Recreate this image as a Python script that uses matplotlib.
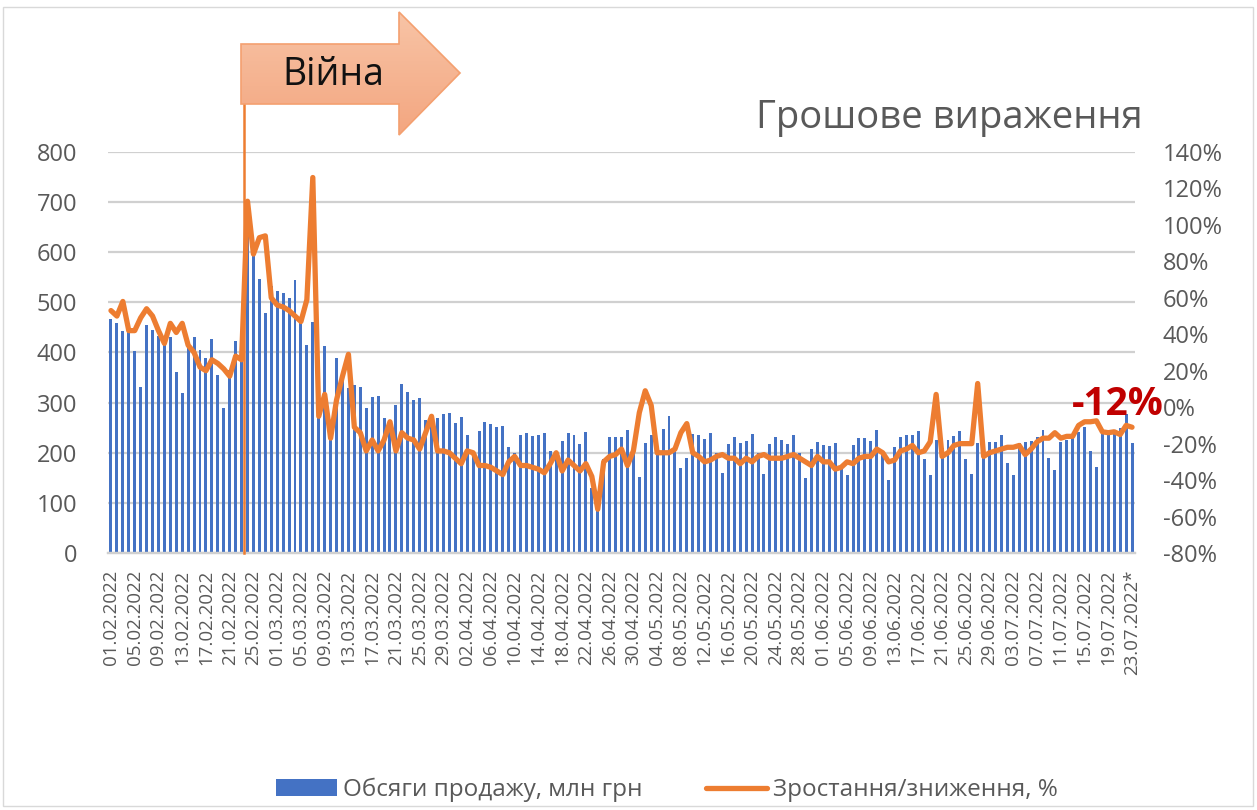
import numpy as np
import pandas as pd
import matplotlib
matplotlib.use("Agg")
import matplotlib.pyplot as plt
from matplotlib.patches import Polygon, Rectangle
from matplotlib.ticker import FuncFormatter

plt.rcParams['font.family'] = ['Open Sans', 'DejaVu Sans']

# =========================
# Дані
# =========================
dates = pd.date_range("2022-02-01", "2022-07-23", freq="D")
date_labels = [d.strftime("%d.%m.%Y") for d in dates]
date_labels[-1] = date_labels[-1] + "*"

# Обсяги продажу, млн грн
sales = [
    466, 458, 442, 440, 402, 332, 455, 445, 432, 418,
    430, 361, 319, 412, 430, 405, 389, 426, 355, 289,
    365, 422, 400, 640, 598, 546, 479, 532, 522, 518,
    508, 545, 462, 415, 460, 300, 412, 240, 390, 353,
    330, 335, 332, 289, 312, 314, 270, 262, 295, 337,
    321, 305, 309, 265, 275, 270, 277, 279, 260, 272,
    235, 200, 244, 261, 257, 251, 253, 212, 200, 235,
    240, 234, 235, 240, 204, 202, 224, 239, 235, 218,
    242, 130, 95, 187, 232, 232, 231, 245, 200, 151,
    220, 235, 210, 247, 273, 205, 169, 190, 237, 235,
    227, 239, 200, 159, 217, 232, 220, 224, 237, 200,
    158, 218, 232, 226, 217, 235, 200, 149, 208, 222,
    215, 214, 220, 170, 156, 215, 230, 230, 224, 245,
    200, 146, 211, 232, 235, 235, 243, 187, 156, 225,
    210, 225, 233, 243, 187, 157, 219, 216, 222, 222,
    235, 179, 156, 220, 222, 224, 232, 245, 190, 166,
    222, 226, 230, 241, 252, 204, 172, 239, 235, 239,
    250, 277, 219,
]

# Зростання/зниження, %
change = [
    53, 50, 58, 42, 42, 49, 54, 50, 42, 35,
    46, 41, 46, 34, 30, 22, 20, 26, 24, 21,
    17, 28, 26, 113, 84, 93, 94, 60, 56, 55,
    53, 50, 47, 59, 126, -5, 7, -17, 4, 17,
    29, -11, -14, -24, -18, -24, -18, -8, -24, -14,
    -17, -18, -23, -14, -5, -24, -24, -25, -28, -31,
    -24, -25, -32, -32, -33, -35, -37, -30, -27, -32,
    -32, -33, -34, -36, -31, -25, -35, -29, -32, -35,
    -31, -38, -56, -30, -27, -26, -23, -32, -24, -3,
    9, 1, -25, -25, -25, -23, -14, -9, -25, -27,
    -30, -29, -27, -26, -28, -28, -31, -28, -30, -27,
    -26, -28, -28, -28, -27, -26, -28, -30, -32, -27,
    -30, -30, -34, -33, -30, -31, -28, -27, -27, -23,
    -25, -30, -29, -24, -23, -21, -25, -24, -19, 7,
    -27, -25, -21, -20, -20, -20, 13, -27, -25, -24,
    -23, -22, -22, -21, -26, -23, -19, -17, -17, -14,
    -17, -16, -16, -10, -8, -8, -7.5, -13.5, -14, -13.5,
    -15, -10, -11,
]

war_start = 22.45        # межа 23.02 / 24.02
last_label = "-12%"

# =========================
# Графік
# =========================
W, H = 1257, 810
fig = plt.figure(figsize=(W / 100, H / 100), dpi=100)
ax = fig.add_axes([108 / W, 1 - 553 / H, 1027 / W, 401 / H])
ax2 = ax.twinx()

x = np.arange(len(sales))
ax.bar(x, sales, width=0.5, color="#4472C4", zorder=2,
       label="Обсяги продажу, млн грн")
ax.set_xlim(-0.5, len(sales) - 0.5)
ax.set_ylim(0, 800)
ax.set_yticks(range(0, 801, 100))
ax.yaxis.grid(True, color="#D0D0D0", lw=1.6)
ax.set_axisbelow(True)

ax2.plot(x, change, color="#ED7D31", lw=3.8, solid_joinstyle="round",
         solid_capstyle="round", zorder=3, label="Зростання/зниження, %")
ax2.set_ylim(-80, 140)
ax2.set_yticks(range(-80, 141, 20))
ax2.yaxis.set_major_formatter(FuncFormatter(lambda v, p: f"{v:.0f}%"))
ax2.axvline(war_start, ymin=0, ymax=(553 - 45) / 401, clip_on=False,
            color="#ED7D31", lw=1.8, zorder=4)
ax2.text(169.6, 1.5, last_label, color="#C00000", fontsize=28,
         fontweight="bold", ha="center", va="center", zorder=5)

ax.set_xticks(x[::4])
ax.set_xticklabels(date_labels[::4], rotation=90, fontsize=13.5,
                   color="#595959")
for a in (ax, ax2):
    for s in ("top", "left", "right"):
        a.spines[s].set_visible(False)
    a.spines["bottom"].set_color("#D0D0D0")
    a.spines["bottom"].set_linewidth(1.6)
    a.tick_params(length=0, labelsize=17, labelcolor="#595959")
ax.tick_params(axis="y", pad=22)
ax2.tick_params(axis="y", pad=20)
ax.tick_params(axis="x", pad=12, labelsize=13.5)

# Заголовок
fig.text(1143 / W, 1 - 118 / H, "Грошове вираження", ha="right",
         va="center", fontsize=27.5, color="#595959")

# Стрілка "Війна" з градієнтом
over = fig.add_axes([0, 0, 1, 1], zorder=10)
over.set_xlim(0, W)
over.set_ylim(H, 0)
over.axis("off")
pts = [(241, 44), (399, 44), (399, 12), (460, 73), (399, 135),
       (399, 104), (241, 104)]
arrow = Polygon(pts, closed=True, facecolor="none", edgecolor="#F4A070",
                lw=1.2, zorder=3)
over.add_patch(arrow)
grad = np.linspace(0, 1, 100).reshape(-1, 1)
cmap = matplotlib.colors.LinearSegmentedColormap.from_list(
    "arr", ["#F8C4A6", "#F3A680"])
im = over.imshow(grad, cmap=cmap, extent=(241, 460, 135, 12),
                 aspect="auto", zorder=2)
im.set_clip_path(arrow)
over.text(333, 75, "Війна", fontsize=27, color="#111111", ha="center",
          va="center", zorder=4)
over.add_patch(Rectangle((3, 7), W - 7, H - 11, fill=False,
                         edgecolor="#D9D9D9", lw=1.0))
over.set_xlim(0, W)
over.set_ylim(H, 0)

# Легенда
h1, l1 = ax.get_legend_handles_labels()
h2, l2 = ax2.get_legend_handles_labels()
leg = fig.legend(h1 + h2, l1 + l2, loc="center",
                 bbox_to_anchor=(667 / W, 1 - 790 / H), ncol=2,
                 frameon=False, fontsize=17.5, handlelength=2.5,
                 columnspacing=2.6, handletextpad=0.25)
for t in leg.get_texts():
    t.set_color("#595959")

fig.savefig("out.png", dpi=100)
